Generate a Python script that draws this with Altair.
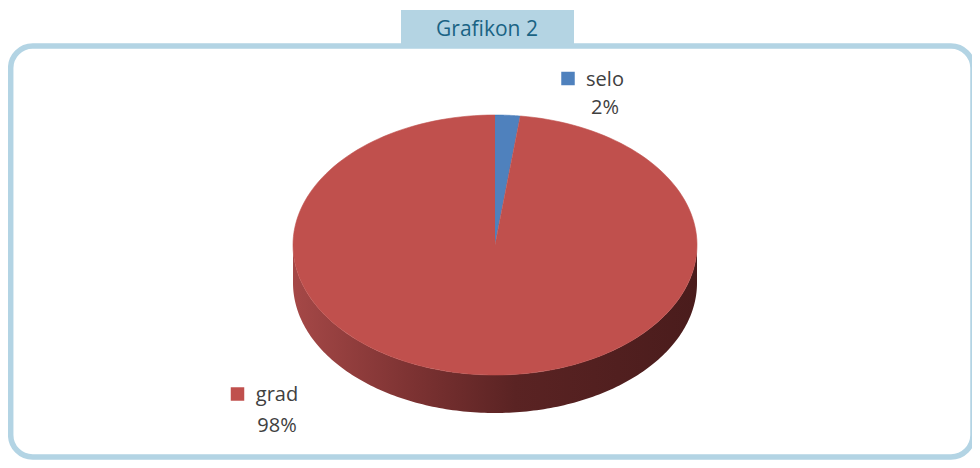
import altair as alt
import pandas as pd

# ---- data ----
categories = ["selo", "grad"]
values = [2, 98]
colors = ["#4F81BD", "#C0504D"]
title_text = "Grafikon 2"

df = pd.DataFrame({"cat": categories, "value": values,
                   "idx": list(range(len(categories)))})
deco = pd.DataFrame({"title": [title_text]})

# ---- layout / style constants ----
W, H = 964, 452
N = 180                 # samples along each arc
DEPTH = 38 / 130        # pie thickness in y-scale units
FONT = "Open Sans"
TXT = "#404040"
FRAME = "#b3d4e4"

xs = alt.Scale(domain=[-1, 1], range=[285, 689], nice=False)
ys = alt.Scale(domain=[-1, 1], range=[367, 107], nice=False)
cs = alt.Scale(domain=categories, range=colors)


def base():
    return (
        alt.Chart(df)
        .transform_window(cum="sum(value)", sort=[alt.SortField("idx")], frame=[None, 0])
        .transform_joinaggregate(total="sum(value)")
        .transform_calculate(
            a0="2*PI*(datum.cum - datum.value)/datum.total",
            a1="2*PI*datum.cum/datum.total",
            pct="format(datum.value/datum.total, '.0%')",
        )
    )


# side (visible front half of the rim)
side = (
    base()
    .transform_calculate(s0="max(datum.a0, PI/2)", s1="min(datum.a1, 3*PI/2)")
    .transform_filter("datum.s1 > datum.s0")
    .transform_calculate(k=f"sequence(0, {N + 1})")
    .transform_flatten(["k"])
    .transform_calculate(
        ang=f"datum.s0 + (datum.s1 - datum.s0) * datum.k / {N}",
        u="sin(datum.ang)",
        v="cos(datum.ang)",
        v2=f"cos(datum.ang) - {DEPTH}",
    )
    .mark_area(
        color=alt.Gradient(
            gradient="linear",
            stops=[
                alt.GradientStop(color="#a54847", offset=0),
                alt.GradientStop(color="#7c3232", offset=0.3),
                alt.GradientStop(color="#5a2323", offset=0.55),
                alt.GradientStop(color="#4a1c1c", offset=1),
            ],
            x1=0, x2=1, y1=0, y2=0,
        )
    )
    .encode(
        x=alt.X("u:Q", scale=xs, axis=None),
        y=alt.Y("v:Q", scale=ys, axis=None),
        y2="v2:Q",
        detail="cat:N",
    )
)

# top face slices
top = (
    base()
    .transform_calculate(k=f"sequence(0, {N + 2})")
    .transform_flatten(["k"])
    .transform_calculate(
        ang=f"datum.a0 + (datum.a1 - datum.a0) * max(datum.k - 1, 0) / {N}",
        u="datum.k == 0 ? 0 : sin(datum.ang)",
        v="datum.k == 0 ? 0 : cos(datum.ang)",
    )
    .mark_line(filled=True, strokeWidth=0.6)
    .encode(
        x=alt.X("u:Q", scale=xs, axis=None),
        y=alt.Y("v:Q", scale=ys, axis=None),
        fill=alt.Fill("cat:N", scale=cs, legend=None),
        stroke=alt.Stroke("cat:N", scale=cs, legend=None),
        order=alt.Order("k:Q"),
    )
)

# data labels with legend keys (positions are layout)
label_pos = {
    "selo": {"sq": (560, 70.5), "tx": 597, "l1": 78, "l2": 106},
    "grad": {"sq": (229.5, 386), "tx": 269, "l1": 393, "l2": 424},
}
labels = []
for cat, p in label_pos.items():
    b = base().transform_filter(alt.datum.cat == cat)
    labels.append(
        b.mark_square(size=182, opacity=1).encode(
            x=alt.value(p["sq"][0]), y=alt.value(p["sq"][1]),
            color=alt.Color("cat:N", scale=cs, legend=None),
        )
    )
    labels.append(
        b.mark_text(font=FONT, fontSize=20, color=TXT, align="center",
                    baseline="alphabetic").encode(
            x=alt.value(p["tx"]), y=alt.value(p["l1"]), text="cat:N")
    )
    labels.append(
        b.mark_text(font=FONT, fontSize=20, color=TXT, align="center",
                    baseline="alphabetic").encode(
            x=alt.value(p["tx"]), y=alt.value(p["l2"]), text="pct:N")
    )

# frame and title tab
border = alt.Chart(deco).mark_rect(
    filled=False, color=FRAME, strokeWidth=5.5, cornerRadius=22
).encode(x=alt.value(2.7), x2=alt.value(965), y=alt.value(38), y2=alt.value(449))

tab = alt.Chart(deco).mark_rect(color="#b4d4e3").encode(
    x=alt.value(393), x2=alt.value(566), y=alt.value(2), y2=alt.value(38)
)

title = alt.Chart(deco).mark_text(
    font=FONT, fontSize=21, color="#1a6384", align="center", baseline="alphabetic"
).encode(x=alt.value(479), y=alt.value(28), text="title:N")

chart = alt.layer(border, tab, title, side, top, *labels).properties(
    width=W, height=H, autosize="none", padding=0
).configure_view(strokeWidth=0)

chart.save("out.html", embed_options={"renderer": "svg", "actions": False})
